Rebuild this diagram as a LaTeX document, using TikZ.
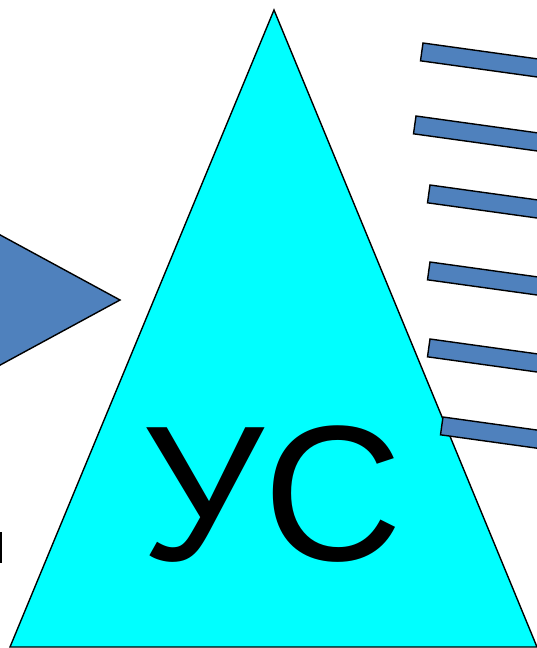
\documentclass[tikz,border=0pt]{standalone}
\usepackage{fontspec}
\setmainfont{Liberation Sans}
\definecolor{barblue}{HTML}{4F81BD}
\definecolor{cyanfill}{HTML}{00FFFF}
\tikzset{
  outline/.style={draw=black, line width=1.4pt, line join=miter},
  barshape/.style={outline, fill=barblue},
  bigtri/.style={outline, fill=cyanfill},
  bigtext/.style={font=\fontsize{193}{193}\selectfont, inner sep=0pt, anchor=base}
}
\newcommand{\slantbar}[2]{%
  \draw[barshape] (#1,#2) -- ++(198.1,27.5) -- ++(-2.5,17.8) -- ++(-198.1,-27.5) -- cycle;}
\begin{document}
\begin{tikzpicture}[x=1pt,y=-1pt]
\useasboundingbox (0,0) rectangle (537,648);
\clip (0,0) rectangle (537,648);
% left blue arrow head
\draw[barshape] (-20,224) -- (120,300) -- (-20,376) -- cycle;
% big cyan triangle
\draw[bigtri] (274,10) -- (537,647) -- (10,647) -- cycle;
% slanted bars
\slantbar{423}{43}
\slantbar{416}{116}
\slantbar{430}{185}
\slantbar{430}{262}
\slantbar{430}{339}
\slantbar{443}{417}
% label
\node[bigtext] (label) at (272,560) {УС};
% fragment at left edge
\fill[black] (0,532) rectangle (2,563);
\end{tikzpicture}
\end{document}
